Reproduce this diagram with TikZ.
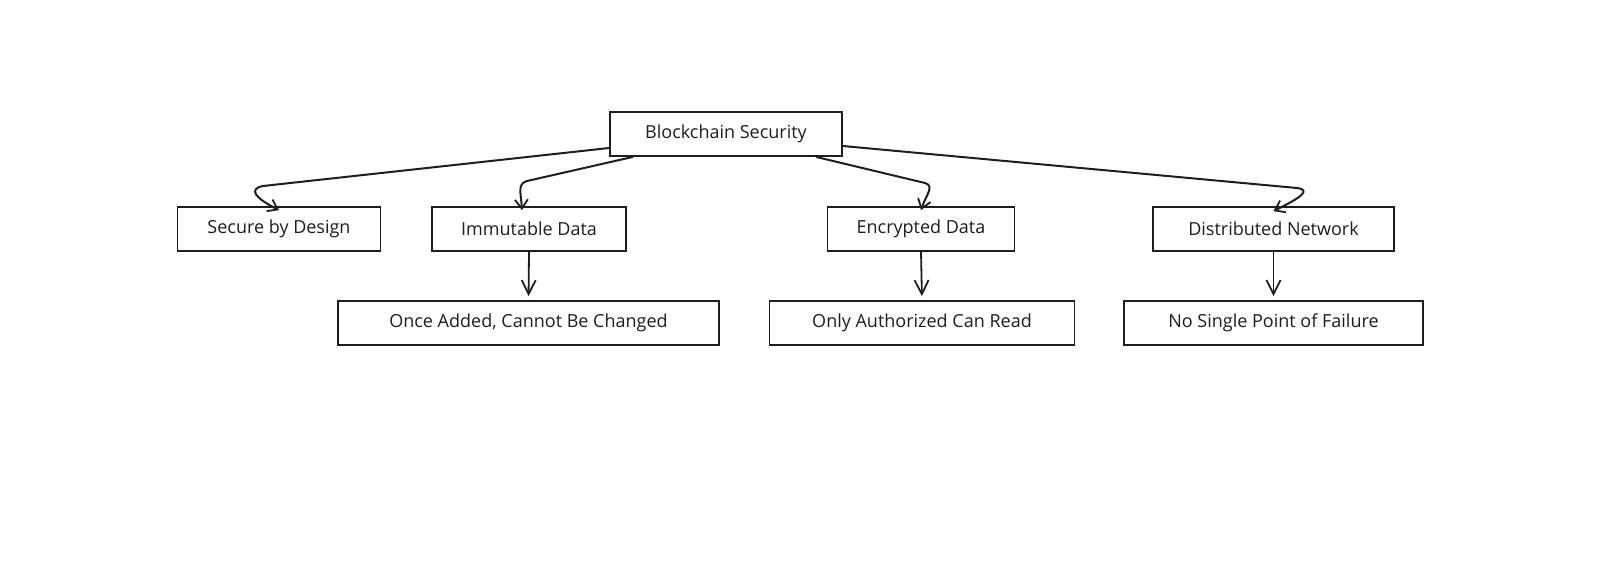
\documentclass[tikz,border=0pt]{standalone}
\usepackage{fontspec}
\setmainfont{Open Sans}
\usetikzlibrary{arrows.meta}
\definecolor{ink}{HTML}{1E1E1E}
\tikzset{
  box/.style={draw=ink, line width=1.8pt, rectangle, minimum height=44pt, inner sep=0pt,
              font=\fontsize{18}{21}\selectfont, text=ink, fill=white},
  arr/.style={draw=ink, line width=2pt, -{Straight Barb[length=9pt,width=13pt,line width=1.8pt]}},
  varr/.style={draw=ink, line width=1.8pt, -{Straight Barb[length=14pt,width=14pt,line width=1.8pt]}, shorten >=4pt}
}
\begin{document}
\begin{tikzpicture}[x=1pt,y=-1pt]
\useasboundingbox (0,0) rectangle (1620,565);
\node[box, minimum width=232pt] (bs) at (726,134) {Blockchain Security};
\node[box, minimum width=203pt] (sbd) at (279,229) {Secure by Design};
\node[box, minimum width=194pt] (imm) at (529,229) {Immutable Data};
\node[box, minimum width=187pt] (enc) at (921,229) {Encrypted Data};
\node[box, minimum width=241pt] (dist) at (1273.5,229) {Distributed Network};
\node[box, minimum width=381pt] (once) at (528.5,323) {Once Added, Cannot Be Changed};
\node[box, minimum width=305pt] (only) at (922,323) {Only Authorized Can Read};
\node[box, minimum width=299pt] (nosp) at (1273.5,323) {No Single Point of Failure};
% curved connectors from the root
\coordinate (c1) at (263,186);
\coordinate (c2) at (527,181);
\coordinate (c3) at (925,183);
\coordinate (c4) at (1297,188);
\draw[arr] ([yshift=-14pt]bs.west) -- (c1) .. controls (248,189) and (255,198) .. ([yshift=-4pt]sbd.north);
\draw[arr] ([xshift=-93pt]bs.south) -- (c2) .. controls (517,184) and (521,193) .. ([xshift=-7pt,yshift=-4pt]imm.north);
\draw[arr] ([xshift=90pt]bs.south) -- (c3) .. controls (935,186) and (926,195) .. ([yshift=-4pt]enc.north);
\draw[arr] ([yshift=-12pt]bs.east) -- (c4) .. controls (1312,190) and (1300,198) .. ([yshift=-5pt]dist.north);
% straight connectors
\draw[varr] (imm.south) -- (once.north);
\draw[varr] (enc.south) -- (only.north);
\draw[varr] (dist.south) -- (nosp.north);
\end{tikzpicture}
\end{document}
